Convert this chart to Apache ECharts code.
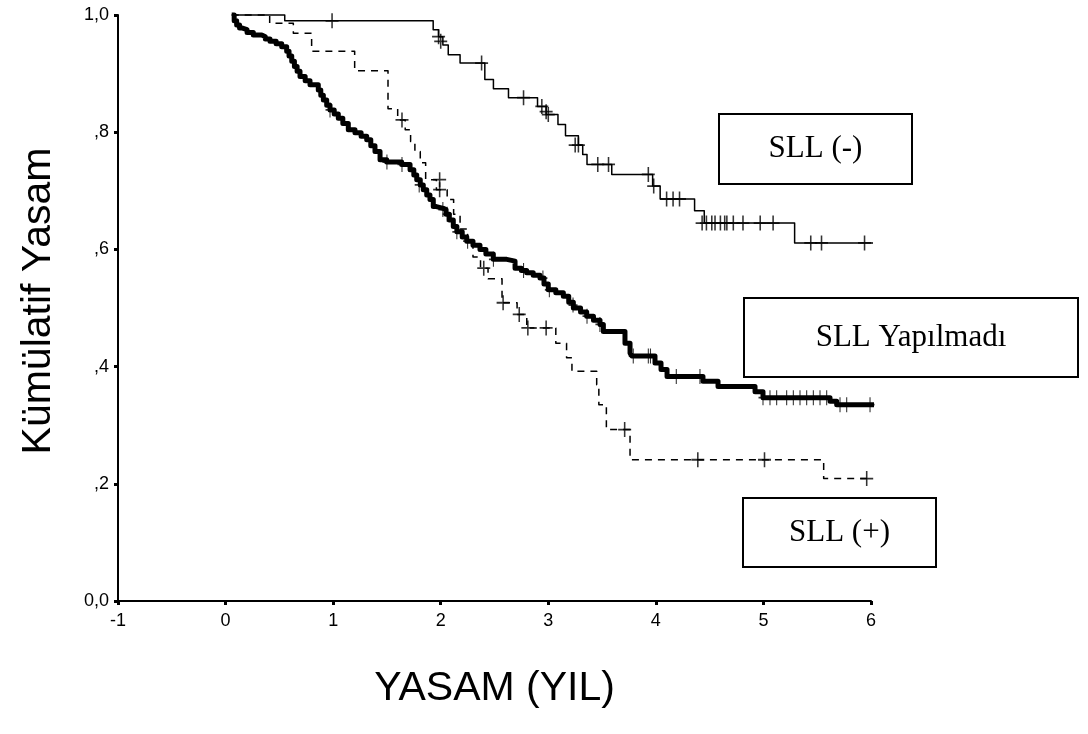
<!DOCTYPE html>
<html>
<head>
<meta charset="utf-8">
<script src="https://cdn.jsdelivr.net/npm/echarts@6/dist/echarts.min.js"></script>
<style>
  html, body { margin: 0; padding: 0; background: #fff; }
  #chart { width: 1088px; height: 734px; }
</style>
</head>
<body>
<div id="chart"></div>
<script>
// Kaplan-Meier survival curves: [time (years), cumulative survival after the step]
const sllNegSteps = [
  [0.057, 1.0], [0.55, 0.99], [1.93, 0.975], [1.98, 0.963], [2.02, 0.949], [2.07, 0.932],
  [2.18, 0.918], [2.41, 0.890], [2.49, 0.874], [2.63, 0.859], [2.90, 0.844], [2.98, 0.830],
  [3.09, 0.813], [3.16, 0.794], [3.28, 0.778], [3.32, 0.762], [3.36, 0.745], [3.59, 0.728],
  [3.97, 0.708], [4.04, 0.686], [4.36, 0.666], [4.45, 0.645], [5.29, 0.611], [6.30, 0.611]
];
const sllNegCensored = [
  [0.99, 0.99], [1.98, 0.963], [2.00, 0.955], [2.38, 0.918], [2.77, 0.859], [2.94, 0.844],
  [2.98, 0.835], [3.00, 0.830], [3.25, 0.778], [3.28, 0.778], [3.46, 0.745], [3.56, 0.745],
  [3.93, 0.728], [3.98, 0.708], [4.10, 0.686], [4.16, 0.686], [4.22, 0.686],
  [4.43, 0.645], [4.47, 0.645], [4.52, 0.645], [4.55, 0.645], [4.60, 0.645], [4.64, 0.645],
  [4.66, 0.645], [4.72, 0.645], [4.81, 0.645], [4.97, 0.645], [5.09, 0.645],
  [5.44, 0.611], [5.54, 0.611], [5.94, 0.611]
];

const sllPosSteps = [
  [0.057, 1.0], [0.41, 0.986], [0.63, 0.969], [0.80, 0.938], [1.20, 0.905], [1.51, 0.840],
  [1.60, 0.821], [1.67, 0.804], [1.72, 0.784], [1.76, 0.767], [1.81, 0.748], [1.86, 0.719],
  [1.96, 0.702], [2.06, 0.685], [2.12, 0.660], [2.18, 0.635], [2.25, 0.610], [2.30, 0.587],
  [2.37, 0.568], [2.44, 0.550], [2.57, 0.509], [2.71, 0.489], [2.80, 0.466], [3.07, 0.440],
  [3.17, 0.415], [3.22, 0.392], [3.45, 0.369], [3.47, 0.335], [3.54, 0.2925], [3.76, 0.241],
  [5.56, 0.209], [6.30, 0.209]
];
const sllPosCensored = [
  [1.64, 0.821], [1.99, 0.719], [1.99, 0.702], [2.40, 0.568], [2.58, 0.509], [2.73, 0.489],
  [2.81, 0.466], [2.98, 0.466], [3.71, 0.2925], [4.39, 0.241], [5.01, 0.241], [5.96, 0.209]
];

const noSllSteps = [
  [0.057, 1.0], [0.08, 0.990], [0.103, 0.983], [0.13, 0.978], [0.150, 0.975], [0.20, 0.970],
  [0.258, 0.966], [0.336, 0.963], [0.37, 0.959], [0.413, 0.955], [0.47, 0.951], [0.522, 0.946],
  [0.568, 0.938], [0.59, 0.930], [0.615, 0.921], [0.64, 0.912], [0.665, 0.904], [0.692, 0.895],
  [0.74, 0.888], [0.785, 0.881], [0.862, 0.872], [0.885, 0.863], [0.909, 0.855], [0.94, 0.846],
  [0.971, 0.838], [1.01, 0.831], [1.048, 0.824], [1.09, 0.815], [1.141, 0.804], [1.203, 0.799],
  [1.26, 0.793], [1.312, 0.787], [1.35, 0.777], [1.389, 0.767], [1.436, 0.753], [1.498, 0.749],
  [1.637, 0.745], [1.715, 0.736], [1.75, 0.727], [1.777, 0.719], [1.81, 0.710], [1.838, 0.702],
  [1.87, 0.693], [1.900, 0.685], [1.931, 0.673], [1.96, 0.670], [2.024, 0.668], [2.05, 0.660],
  [2.08, 0.650], [2.117, 0.639], [2.15, 0.630], [2.20, 0.621], [2.242, 0.614], [2.30, 0.607],
  [2.365, 0.600], [2.42, 0.592], [2.489, 0.583], [2.614, 0.580], [2.691, 0.568], [2.75, 0.564],
  [2.799, 0.560], [2.86, 0.556], [2.923, 0.551], [2.96, 0.541], [3.000, 0.531], [3.07, 0.526],
  [3.140, 0.520], [3.19, 0.510], [3.233, 0.500], [3.30, 0.493], [3.357, 0.486], [3.42, 0.479],
  [3.481, 0.472], [3.512, 0.460], [3.713, 0.440], [3.760, 0.423], [3.778, 0.418], [3.992, 0.406],
  [4.048, 0.395], [4.104, 0.383], [4.438, 0.375], [4.578, 0.366], [4.922, 0.357], [4.996, 0.347],
  [5.619, 0.341], [5.681, 0.335], [6.286, 0.335]
];
const noSllCensored = [
  [0.971, 0.838], [1.50, 0.749], [1.64, 0.745], [1.80, 0.710], [2.02, 0.668], [2.06, 0.660],
  [2.15, 0.630], [2.25, 0.614], [2.49, 0.583], [2.77, 0.564], [2.95, 0.551], [3.01, 0.531],
  [3.23, 0.505], [3.36, 0.486], [3.48, 0.472], [3.79, 0.418], [3.93, 0.418], [3.95, 0.418],
  [4.19, 0.383], [4.41, 0.383],
  [4.996, 0.347], [5.061, 0.347], [5.123, 0.347], [5.216, 0.347], [5.278, 0.347], [5.340, 0.347],
  [5.402, 0.347], [5.464, 0.347], [5.526, 0.347], [5.588, 0.347],
  [5.712, 0.335], [5.774, 0.335], [5.991, 0.335]
];

const yTickLabels = { '0': '0,0', '0.2': ',2', '0.4': ',4', '0.6': ',6', '0.8': ',8', '1': '1,0' };
const groupNames = ['SLL (-)', 'SLL Yapılmadı', 'SLL (+)'];
const xAxisTitle = 'YASAM (YIL)';
const yAxisTitle = 'Kümülatif Yasam';

// thin "+" mark used for censored observations
const plusPath = 'path://M4.4,0H5.6V4.4H10V5.6H5.6V10H4.4V5.6H0V4.4H4.4Z';

const chart = echarts.init(document.getElementById('chart'), null, { renderer: 'canvas' });

function stepLine(name, data, width, type) {
  return {
    name, type: 'line', step: 'end', data, showSymbol: false, silent: true, clip: false,
    lineStyle: { color: '#000', width, type, cap: 'butt', join: 'round' }, z: 3
  };
}
function censorMarks(name, data, size) {
  return {
    name, type: 'scatter', data, symbol: plusPath, symbolSize: size, silent: true, clip: false,
    itemStyle: { color: '#000' }, z: 4
  };
}

function labelBox(left, top, w, h, text) {
  return {
    type: 'group', left, top,
    children: [
      { type: 'rect', shape: { x: 0, y: 0, width: w, height: h },
        style: { fill: '#fff', stroke: '#000', lineWidth: 2 } },
      { type: 'text', x: w / 2, y: h / 2,
        style: { text, fill: '#000', font: '31px "Liberation Serif", "Times New Roman", serif',
                 align: 'center', verticalAlign: 'middle' } }
    ]
  };
}

const axisFont = '"Liberation Sans", Arial, sans-serif';

chart.setOption({
  animation: false,
  backgroundColor: '#fff',
  grid: { left: 118, right: 217, top: 15, bottom: 133, containLabel: false },
  xAxis: {
    type: 'value', min: -1, max: 6, interval: 1,
    name: xAxisTitle, nameLocation: 'middle', nameGap: 67,
    nameTextStyle: { fontFamily: axisFont, fontSize: 41, color: '#000' },
    axisLine: { show: true, onZero: false, lineStyle: { color: '#000', width: 2 } },
    axisTick: { show: true, length: 4, lineStyle: { color: '#000', width: 3 } },
    axisLabel: { fontFamily: axisFont, fontSize: 18, color: '#000', margin: 11,
                 formatter: v => String(v) },
    splitLine: { show: false }
  },
  yAxis: {
    type: 'value', min: 0, max: 1, interval: 0.2,
    name: yAxisTitle, nameLocation: 'middle', nameGap: 59, nameRotate: 90,
    nameTextStyle: { fontFamily: axisFont, fontSize: 41, color: '#000', padding: [0, 0, 0, 14] },
    axisLine: { show: true, onZero: false, lineStyle: { color: '#000', width: 2 } },
    axisTick: { show: true, length: 4, lineStyle: { color: '#000', width: 3 } },
    axisLabel: { fontFamily: axisFont, fontSize: 18, color: '#000', margin: 9,
                 formatter: v => yTickLabels[String(+v.toFixed(1))] },
    splitLine: { show: false }
  },
  series: [
    stepLine(groupNames[0], sllNegSteps, 1.5, 'solid'),
    stepLine(groupNames[2], sllPosSteps, 1.5, [7, 6]),
    stepLine(groupNames[1], noSllSteps, 5, 'solid'),
    censorMarks(groupNames[0], sllNegCensored, [13, 15]),
    censorMarks(groupNames[2], sllPosCensored, [13, 15]),
    censorMarks(groupNames[1], noSllCensored, [9, 15])
  ],
  graphic: [
    labelBox(718, 113, 193, 70, groupNames[0]),
    labelBox(743, 297, 334, 79, groupNames[1]),
    labelBox(742, 497, 193, 69, groupNames[2])
  ]
});
</script>
</body>
</html>
